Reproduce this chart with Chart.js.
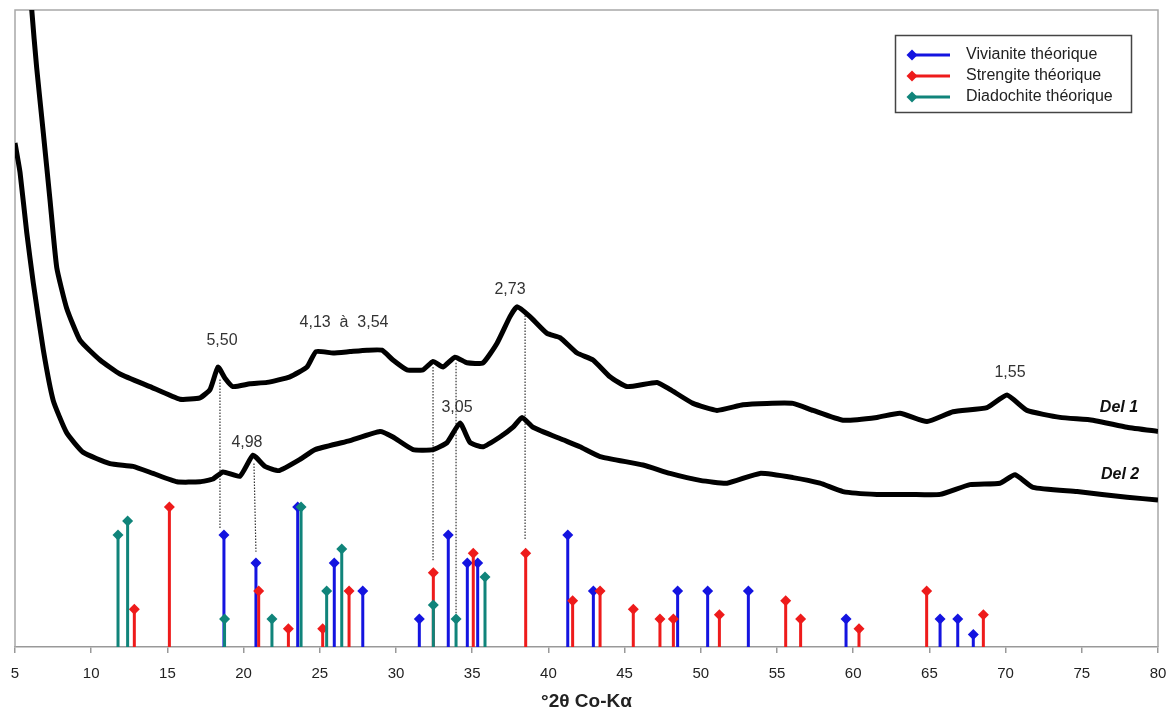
<!DOCTYPE html>
<html>
<head>
<meta charset="utf-8">
<script src="https://cdn.jsdelivr.net/npm/chart.js@4"></script>
<style>
  html, body { margin: 0; padding: 0; background: #fff; }
  #wrap { width: 1172px; height: 713px; }
</style>
</head>
<body>
<div id="wrap"><canvas id="xrd" width="1172" height="713"></canvas></div>
<script>
// -------- DATA --------
// diffractograms (°2θ, arbitrary counts)
const del1Theta = [5.98, 6.10, 6.42, 6.86, 7.30, 7.74, 8.39, 9.27, 10.58, 11.89, 13.86, 15.83, 17.14, 17.80, 18.32, 18.78, 19.30, 20.42, 21.54, 23.04, 24.16, 24.75, 25.87, 26.98, 28.10, 29.08, 29.80, 30.72, 31.77, 32.43, 33.08, 33.87, 34.66, 35.71, 36.63, 37.48, 37.94, 38.79, 39.91, 40.76, 41.88, 42.93, 44.04, 45.16, 47.13, 47.98, 49.49, 51.06, 52.77, 54.34, 56.05, 57.36, 59.33, 61.56, 63.07, 64.84, 66.55, 68.78, 70.09, 71.40, 73.57, 75.73, 77.97, 80.00];
const del1Counts = [484, 455, 414, 367, 319, 271, 242, 219, 205, 195, 186, 177, 178, 184, 200, 192, 186, 188, 189, 193, 200, 211, 210, 211, 212, 212, 205, 198, 198, 204, 200, 207, 203, 203, 217, 236, 243, 236, 224, 221, 210, 205, 193, 186, 189, 184, 174, 169, 173, 174, 174, 169, 162, 164, 167, 161, 168, 171, 180, 169, 164, 162, 157, 154];

const del2Theta = [5.00, 5.33, 5.77, 6.20, 6.86, 7.51, 8.39, 9.48, 11.23, 12.74, 14.06, 15.63, 17.14, 17.99, 18.65, 19.76, 20.62, 21.40, 22.32, 23.70, 24.69, 26.85, 28.95, 29.80, 31.12, 32.43, 33.35, 34.20, 34.86, 35.71, 36.82, 37.68, 38.27, 38.99, 40.96, 42.07, 43.39, 46.21, 47.98, 49.95, 51.72, 53.88, 56.05, 57.82, 59.33, 61.56, 63.73, 65.70, 67.66, 69.63, 70.62, 71.80, 74.69, 77.97, 80.00];
const del2Counts = [360, 339, 296, 260, 212, 176, 153, 139, 131, 129, 124, 118, 118, 120, 125, 122, 137, 129, 126, 134, 141, 147, 154, 150, 141, 141, 146, 160, 146, 143, 150, 157, 164, 157, 148, 143, 136, 130, 124, 119, 117, 124, 121, 117, 111, 109, 109, 109, 116, 117, 123, 114, 111, 107, 105];

// theoretical patterns (°2θ, relative intensity)
const vivianiteTheta = [18.71, 20.81, 23.55, 25.95, 27.82, 31.53, 33.43, 34.68, 35.36, 41.27, 42.95, 48.48, 50.45, 53.12, 59.53, 65.70, 66.86, 67.88];
const vivianiteInt   = [80, 60, 100, 60, 40, 20, 80, 60, 60, 80, 40, 40, 40, 40, 20, 20, 20, 9];

const strengiteTheta = [12.83, 15.13, 20.99, 22.94, 25.19, 26.92, 32.45, 35.07, 38.51, 41.59, 43.39, 45.57, 47.32, 48.20, 51.22, 55.57, 56.55, 60.38, 64.82, 68.54];
const strengiteInt   = [27, 100, 40, 13, 13, 40, 53, 67, 67, 33, 40, 27, 20, 20, 23, 33, 20, 13, 40, 23];

const diadochiteTheta = [11.76, 12.39, 18.75, 21.86, 23.77, 25.45, 26.44, 32.45, 33.94, 35.84];
const diadochiteInt   = [80, 90, 20, 20, 100, 40, 70, 30, 20, 50];

// d-spacing labels (Å)
const peakLabels = ['5,50', '4,13  à  3,54', '2,73', '3,05', '4,98', '1,55'];
const peakLabelTheta = [18.58, 26.59, 37.48, 34.00, 20.22, 70.29];
const peakLabelY = [219, 232, 255, 171, 146, 196];

const sampleLabels = ['Del 1', 'Del 2'];
const sampleLabelTheta = [77.44, 77.51];
const sampleLabelY = [171, 123];

// dotted guides from peaks down to the reference sticks
const guideThetaTop = [18.45, 20.68, 32.43, 33.94, 38.47];
const guideYTop     = [191, 131, 200, 203, 239];
const guideThetaBot = [18.45, 20.81, 32.43, 33.94, 38.47];
const guideYBot     = [84, 68, 62, 24, 76];

const ticks2Theta = [5, 10, 15, 20, 25, 30, 35, 40, 45, 50, 55, 60, 65, 70, 75, 80];

const seriesNames = ['Vivianite théorique', 'Strengite théorique', 'Diadochite théorique'];
const seriesColors = ['#1414e0', '#ee1b1b', '#10847a'];

// -------- BUILD --------
const toPoints = (xs, ys) => xs.map((x, i) => ({ x, y: ys[i] }));

function sticks(xs, ys) {
  const pts = [];
  xs.forEach((x, i) => {
    pts.push({ x, y: 0 }, { x, y: ys[i] }, { x, y: null });
  });
  return pts;
}

function guides() {
  const pts = [];
  guideThetaTop.forEach((x, i) => {
    pts.push({ x, y: guideYTop[i] }, { x: guideThetaBot[i], y: guideYBot[i] }, { x, y: null });
  });
  return pts;
}

function stickDataset(label, xs, ys, color) {
  return {
    label,
    data: sticks(xs, ys),
    borderColor: color,
    backgroundColor: color,
    borderWidth: 3,
    spanGaps: false,
    pointStyle: 'rectRot',
    pointRadius: ctx => (ctx.index % 3 === 1 ? 5.5 : 0),
    pointBorderWidth: 0,
    pointBackgroundColor: color
  };
}

const datasets = [
  stickDataset(seriesNames[2], diadochiteTheta, diadochiteInt, seriesColors[2]),
  stickDataset(seriesNames[1], strengiteTheta, strengiteInt, seriesColors[1]),
  stickDataset(seriesNames[0], vivianiteTheta, vivianiteInt, seriesColors[0]),
  {
    label: 'Del 1',
    data: toPoints(del1Theta, del1Counts),
    borderColor: '#000',
    borderWidth: 5,
    pointRadius: 0,
    tension: 0.15
  },
  {
    label: 'Del 2',
    data: toPoints(del2Theta, del2Counts),
    borderColor: '#000',
    borderWidth: 5,
    pointRadius: 0,
    tension: 0.15
  },
  {
    label: 'guides',
    data: guides(),
    borderColor: '#333',
    borderWidth: 1.2,
    borderDash: [1.5, 1.5],
    pointRadius: 0,
    spanGaps: false
  }
];

// frame around plot area (left / top / right)
const framePlugin = {
  id: 'frame',
  beforeDatasetsDraw(chart) {
    const { ctx, chartArea: a } = chart;
    ctx.save();
    ctx.strokeStyle = '#a8a8a8';
    ctx.lineWidth = 1.5;
    ctx.beginPath();
    ctx.moveTo(a.left, a.bottom);
    ctx.lineTo(a.left, a.top);
    ctx.lineTo(a.right, a.top);
    ctx.lineTo(a.right, a.bottom);
    ctx.stroke();
    ctx.restore();
  }
};

// d-spacing and sample labels
const labelPlugin = {
  id: 'peakLabels',
  afterDatasetsDraw(chart) {
    const { ctx, scales: { x, y } } = chart;
    ctx.save();
    ctx.textAlign = 'center';
    ctx.textBaseline = 'middle';
    ctx.fillStyle = '#333';
    ctx.font = "16px 'Liberation Sans', Arial, sans-serif";
    peakLabels.forEach((t, i) => {
      ctx.fillText(t, x.getPixelForValue(peakLabelTheta[i]), y.getPixelForValue(peakLabelY[i]));
    });
    ctx.fillStyle = '#111';
    ctx.font = "italic bold 16px 'Liberation Sans', Arial, sans-serif";
    sampleLabels.forEach((t, i) => {
      ctx.fillText(t, x.getPixelForValue(sampleLabelTheta[i]), y.getPixelForValue(sampleLabelY[i]));
    });
    ctx.restore();
  }
};

// boxed legend, top right
const legendPlugin = {
  id: 'boxLegend',
  afterDraw(chart) {
    const ctx = chart.ctx;
    const bx = 895, by = 35, bw = 236, bh = 77;
    ctx.save();
    ctx.fillStyle = '#fff';
    ctx.fillRect(bx, by, bw, bh);
    ctx.strokeStyle = '#444';
    ctx.lineWidth = 1.5;
    ctx.strokeRect(bx + 0.5, by + 0.5, bw, bh);
    ctx.font = "16px 'Liberation Sans', Arial, sans-serif";
    ctx.textBaseline = 'middle';
    seriesNames.forEach((name, i) => {
      const yy = by + 20 + i * 21;
      ctx.strokeStyle = seriesColors[i];
      ctx.lineWidth = 3;
      ctx.beginPath();
      ctx.moveTo(912, yy);
      ctx.lineTo(950, yy);
      ctx.stroke();
      ctx.fillStyle = seriesColors[i];
      ctx.beginPath();
      ctx.moveTo(912, yy - 5.5);
      ctx.lineTo(917.5, yy);
      ctx.lineTo(912, yy + 5.5);
      ctx.lineTo(906.5, yy);
      ctx.closePath();
      ctx.fill();
      ctx.fillStyle = '#222';
      ctx.fillText(name, 966, yy);
    });
    ctx.restore();
  }
};

Chart.defaults.font.family = "'Liberation Sans', Arial, sans-serif";

new Chart(document.getElementById('xrd'), {
  type: 'line',
  data: { datasets },
  options: {
    responsive: false,
    animation: false,
    events: [],
    layout: { padding: { left: 15, right: 14, top: 10, bottom: 0 } },
    scales: {
      x: {
        type: 'linear',
        min: 5,
        max: 80,
        afterBuildTicks: scale => { scale.ticks = ticks2Theta.map(v => ({ value: v })); },
        afterFit: scale => {
          scale.height = 66;
          scale.paddingLeft = 0;
          scale.paddingRight = 0;
        },
        ticks: { color: '#222', font: { size: 15 }, padding: 12 },
        grid: { drawOnChartArea: false, drawTicks: true, tickLength: 6, color: '#999', lineWidth: 1.5 },
        border: { color: '#999', width: 1.5 },
        title: {
          display: true,
          text: '°2θ Co-Kα',
          color: '#222',
          font: { size: 19, weight: 'bold' },
          padding: { top: 0, bottom: 0 }
        }
      },
      y: {
        type: 'linear',
        display: false,
        min: 0,
        max: 455
      }
    },
    plugins: {
      legend: { display: false },
      tooltip: { enabled: false }
    }
  },
  plugins: [framePlugin, labelPlugin, legendPlugin]
});
</script>
</body>
</html>
